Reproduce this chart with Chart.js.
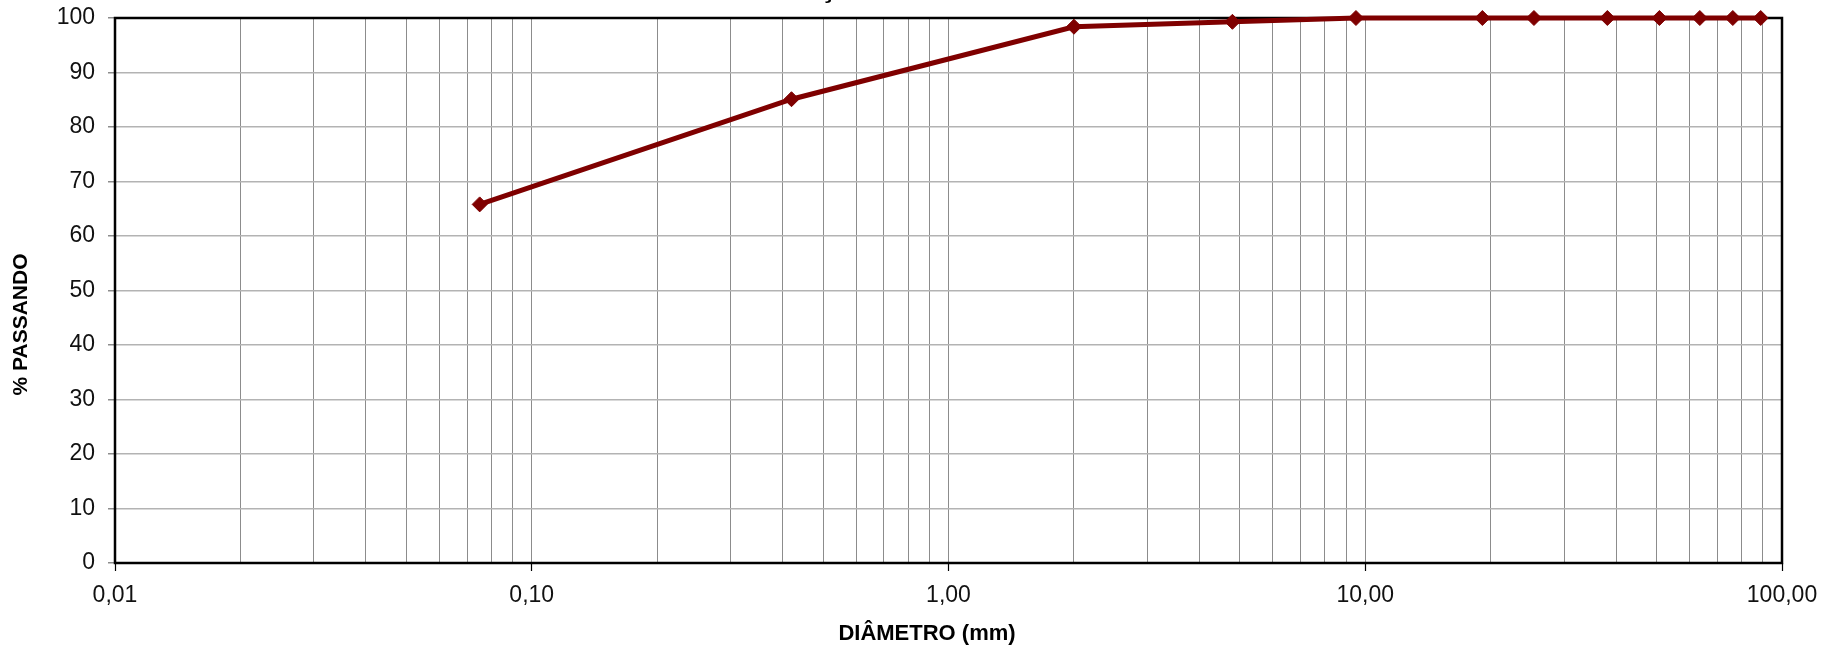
<!DOCTYPE html>
<html lang="pt-BR">
<head>
<meta charset="utf-8">
<title>Curva granulométrica</title>
<script src="https://cdn.jsdelivr.net/npm/chart.js@4.4.1/dist/chart.umd.min.js"></script>
<style>
  html, body { margin: 0; padding: 0; background: #fff; }
  #wrap { width: 1834px; height: 647px; }
</style>
</head>
<body>
<div id="wrap"><canvas id="granulometria" width="1834" height="647"></canvas></div>
<script>
// Abertura das peneiras (mm) e porcentagem passante acumulada
const diametros = [0.075, 0.42, 2.0, 4.8, 9.5, 19.1, 25.4, 38.1, 50.8, 63.5, 76.2, 88.9];
const passando  = [65.8, 85.1, 98.4, 99.3, 100, 100, 100, 100, 100, 100, 100, 100];

// Décadas do eixo logarítmico e seus rótulos
const decadas = [0.01, 0.1, 1, 10, 100];
const rotulosDecadas = ['0,01', '0,10', '1,00', '10,00', '100,00'];
const multiplicadores = [1, 2, 3, 4, 5, 6, 7, 8, 9];

// Eixo Y
const yMin = 0, yMax = 100, yPasso = 10;

const FONTE = '"Liberation Sans", Arial, Helvetica, sans-serif';
const COR_CURVA = '#7f0000';

// linhas de grade verticais: 1..9 em cada década, mais o limite final
const valoresGrade = [];
decadas.slice(0, -1).forEach(d => multiplicadores.forEach(m => valoresGrade.push(Number((d * m).toPrecision(3)))));
valoresGrade.push(decadas[decadas.length - 1]);

function indiceDecada(v) {
  return decadas.findIndex(d => Math.abs(d - v) < d * 1e-6);
}

const pontos = diametros.map((d, i) => ({ x: d, y: passando[i] }));

// moldura preta em volta da área do gráfico
const moldura = {
  id: 'moldura',
  beforeDatasetsDraw(chart) {
    const { ctx, chartArea: a } = chart;
    ctx.save();
    ctx.strokeStyle = '#000';
    ctx.lineWidth = 2.5;
    ctx.strokeRect(a.left, a.top, a.right - a.left, a.bottom - a.top);
    ctx.restore();
  }
};

// título do gráfico e títulos dos eixos, centrados na figura
const textos = {
  id: 'textos',
  afterDraw(chart) {
    const ctx = chart.ctx;
    const cx = chart.width / 2, cy = chart.height / 2;
    ctx.save();
    ctx.fillStyle = '#000';
    ctx.textAlign = 'center';
    ctx.font = 'bold 28px ' + FONTE;
    ctx.textBaseline = 'alphabetic';
    ctx.fillText('DISTRIBUIÇÃO GRANULOMÉTRICA', cx, -3);

    ctx.textBaseline = 'middle';
    ctx.font = 'bold 22px ' + FONTE;
    ctx.fillText('DIÂMETRO (mm)', cx + 10, chart.height - 13);

    ctx.font = 'bold 21px ' + FONTE;
    ctx.translate(21, cy + 1);
    ctx.rotate(-Math.PI / 2);
    ctx.fillText('% PASSANDO', 0, 0);
    ctx.restore();
  }
};

new Chart(document.getElementById('granulometria'), {
  type: 'line',
  data: {
    datasets: [{
      data: pontos,
      borderColor: COR_CURVA,
      borderWidth: 5,
      tension: 0,
      pointStyle: 'rectRot',
      pointRadius: 7.5,
      pointBackgroundColor: COR_CURVA,
      pointBorderColor: COR_CURVA,
      pointBorderWidth: 1,
      clip: false
    }]
  },
  options: {
    responsive: false,
    animation: false,
    devicePixelRatio: 1,
    layout: { padding: { top: 18, right: 52, bottom: 0, left: 0 } },
    plugins: { legend: { display: false }, tooltip: { enabled: false }, title: { display: false } },
    scales: {
      x: {
        type: 'logarithmic',
        min: decadas[0],
        max: decadas[decadas.length - 1],
        afterFit(scale) {
          scale.height = 84;
          scale.paddingLeft = 0;
          scale.paddingRight = 0;
        },
        afterBuildTicks(scale) {
          scale.ticks = valoresGrade.map(v => ({ value: v, major: indiceDecada(v) >= 0 }));
        },
        border: { display: false },
        grid: {
          color: '#8c8c8c',
          lineWidth: 1,
          drawTicks: true,
          tickLength: 8,
          tickWidth: 1.2,
          tickColor: (c) => (c.tick && c.tick.major ? '#000' : 'rgba(0,0,0,0)')
        },
        ticks: {
          autoSkip: false,
          maxRotation: 0,
          minRotation: 0,
          padding: 11,
          color: '#111',
          font: { family: FONTE, size: 23 },
          callback: (value) => {
            const i = indiceDecada(value);
            return i >= 0 ? rotulosDecadas[i] : '';
          }
        },
        title: { display: false }
      },
      y: {
        type: 'linear',
        min: yMin,
        max: yMax,
        afterFit(scale) {
          scale.width = 115;
          scale.paddingTop = 0;
          scale.paddingBottom = 0;
        },
        border: { display: false },
        grid: {
          color: '#b3b3b3',
          lineWidth: 1.5,
          drawTicks: true,
          tickLength: 7,
          tickColor: '#8c8c8c'
        },
        ticks: {
          stepSize: yPasso,
          padding: 13,
          color: '#111',
          font: { family: FONTE, size: 23 }
        },
        title: { display: false }
      }
    }
  },
  plugins: [moldura, textos]
});
</script>
</body>
</html>
